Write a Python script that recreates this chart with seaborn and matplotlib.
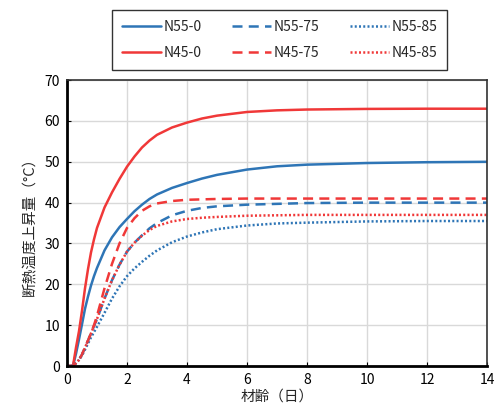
import matplotlib
matplotlib.use("Agg")
import matplotlib.pyplot as plt
import seaborn as sns
import pandas as pd

# age in days
days = [0, 0.2, 0.3, 0.4, 0.5, 0.6, 0.7, 0.8, 0.9, 1.0, 1.25, 1.5, 1.75, 2, 2.25, 2.5, 2.75, 3,
        3.5, 4, 4.5, 5, 6, 7, 8, 10, 12, 14]

n55_0 = [0, 0, 3, 6.5, 10.2, 14, 17, 19.7, 22, 24, 28.3, 31.5, 34, 36, 37.9, 39.5, 40.9, 42,
         43.6, 44.8, 45.9, 46.8, 48.1, 48.9, 49.3, 49.7, 49.9, 50]
n45_0 = [0, 0, 4.5, 8.5, 13.5, 19, 23.7, 27.8, 31, 33.8, 38.8, 42.5, 45.8, 48.8, 51.3, 53.5, 55.2, 56.6,
         58.4, 59.6, 60.6, 61.3, 62.2, 62.6, 62.8, 62.95, 63, 63]
n55_75 = [0, 0, 0.7, 1.5, 2.8, 4.5, 6.2, 8, 9.8, 11.5, 16.5, 21, 24.8, 28, 30.2, 32, 33.7, 35,
          36.9, 38, 38.7, 39.1, 39.5, 39.7, 39.9, 40, 40, 40]
n45_75 = [0, 0, 0.7, 1.5, 2.8, 4.5, 6.2, 8, 10, 12.3, 19, 25, 30, 33.8, 36.2, 38, 39.1, 39.8,
          40.4, 40.7, 40.8, 40.9, 41, 41, 41, 41, 41, 41]
n55_85 = [0, 0, 0.7, 1.5, 2.6, 4, 5.5, 7, 8.3, 9.6, 13, 16.5, 19.5, 22, 23.9, 25.5, 27, 28.3,
          30.3, 31.7, 32.7, 33.5, 34.4, 34.9, 35.1, 35.4, 35.5, 35.5]
n45_85 = [0, 0, 0.7, 1.5, 2.8, 4.5, 6.2, 8, 9.8, 11.5, 16.5, 21, 24.8, 28, 30.2, 31.9, 33.3, 34.3,
          35.4, 36, 36.3, 36.5, 36.8, 36.9, 37, 37, 37, 37]

# legend fills column by column, so this order gives the reference's rows
labels = ["N55-0", "N45-0", "N55-75", "N45-75", "N55-85", "N45-85"]
series = [n55_0, n45_0, n55_75, n45_75, n55_85, n45_85]

blue = "#2E75B6"
red = "#F03838"
colors = [blue, red, blue, red, blue, red]
styles = ["-", "-", (0, (4, 2.5)), (0, (4, 2.5)), (0, (0.8, 0.9)), (0, (0.8, 0.9))]

sns.set_style("ticks")
plt.rcParams["font.family"] = ["Noto Sans CJK JP", "DejaVu Sans"]

fig = plt.figure(figsize=(4.94, 4.13), dpi=100)
ax = fig.add_axes([0.1356, 0.1138, 0.8503, 0.6922])

for lab, vals, c, ls in zip(labels, series, colors, styles):
    df = pd.DataFrame({"day": days, "temp": vals})
    sns.lineplot(data=df, x="day", y="temp", ax=ax, color=c, linestyle=ls,
                 linewidth=1.8, label=lab, legend=False)

ax.set_xlim(0, 14)
ax.set_ylim(0, 70)
ax.set_xticks(range(0, 15, 2))
ax.set_yticks(range(0, 71, 10))
ax.grid(True, color="#d9d9d9", linewidth=1.0)
ax.set_axisbelow(True)
ax.tick_params(direction="in", length=3, labelsize=10, colors="black", pad=5)

for side in ["left", "bottom"]:
    ax.spines[side].set_linewidth(2.0)
    ax.spines[side].set_color("black")
for side in ["top", "right"]:
    ax.spines[side].set_linewidth(1.2)
    ax.spines[side].set_color("#333333")

ax.set_xlabel("材齢（日）", fontsize=10.5, labelpad=2)
ax.set_ylabel("断熱温度上昇量（°C）", fontsize=10.5, labelpad=6)

handles, leg_labels = ax.get_legend_handles_labels()
leg = fig.legend(handles, leg_labels, loc="center", bbox_to_anchor=(0.566, 0.903),
                 ncol=3, fontsize=10, frameon=True, fancybox=False,
                 handlelength=2.8, handletextpad=0.2, columnspacing=2.2,
                 borderpad=0.7, labelspacing=0.9)
leg.get_frame().set_edgecolor("black")
leg.get_frame().set_linewidth(1.0)

fig.savefig("out.png", dpi=100)
